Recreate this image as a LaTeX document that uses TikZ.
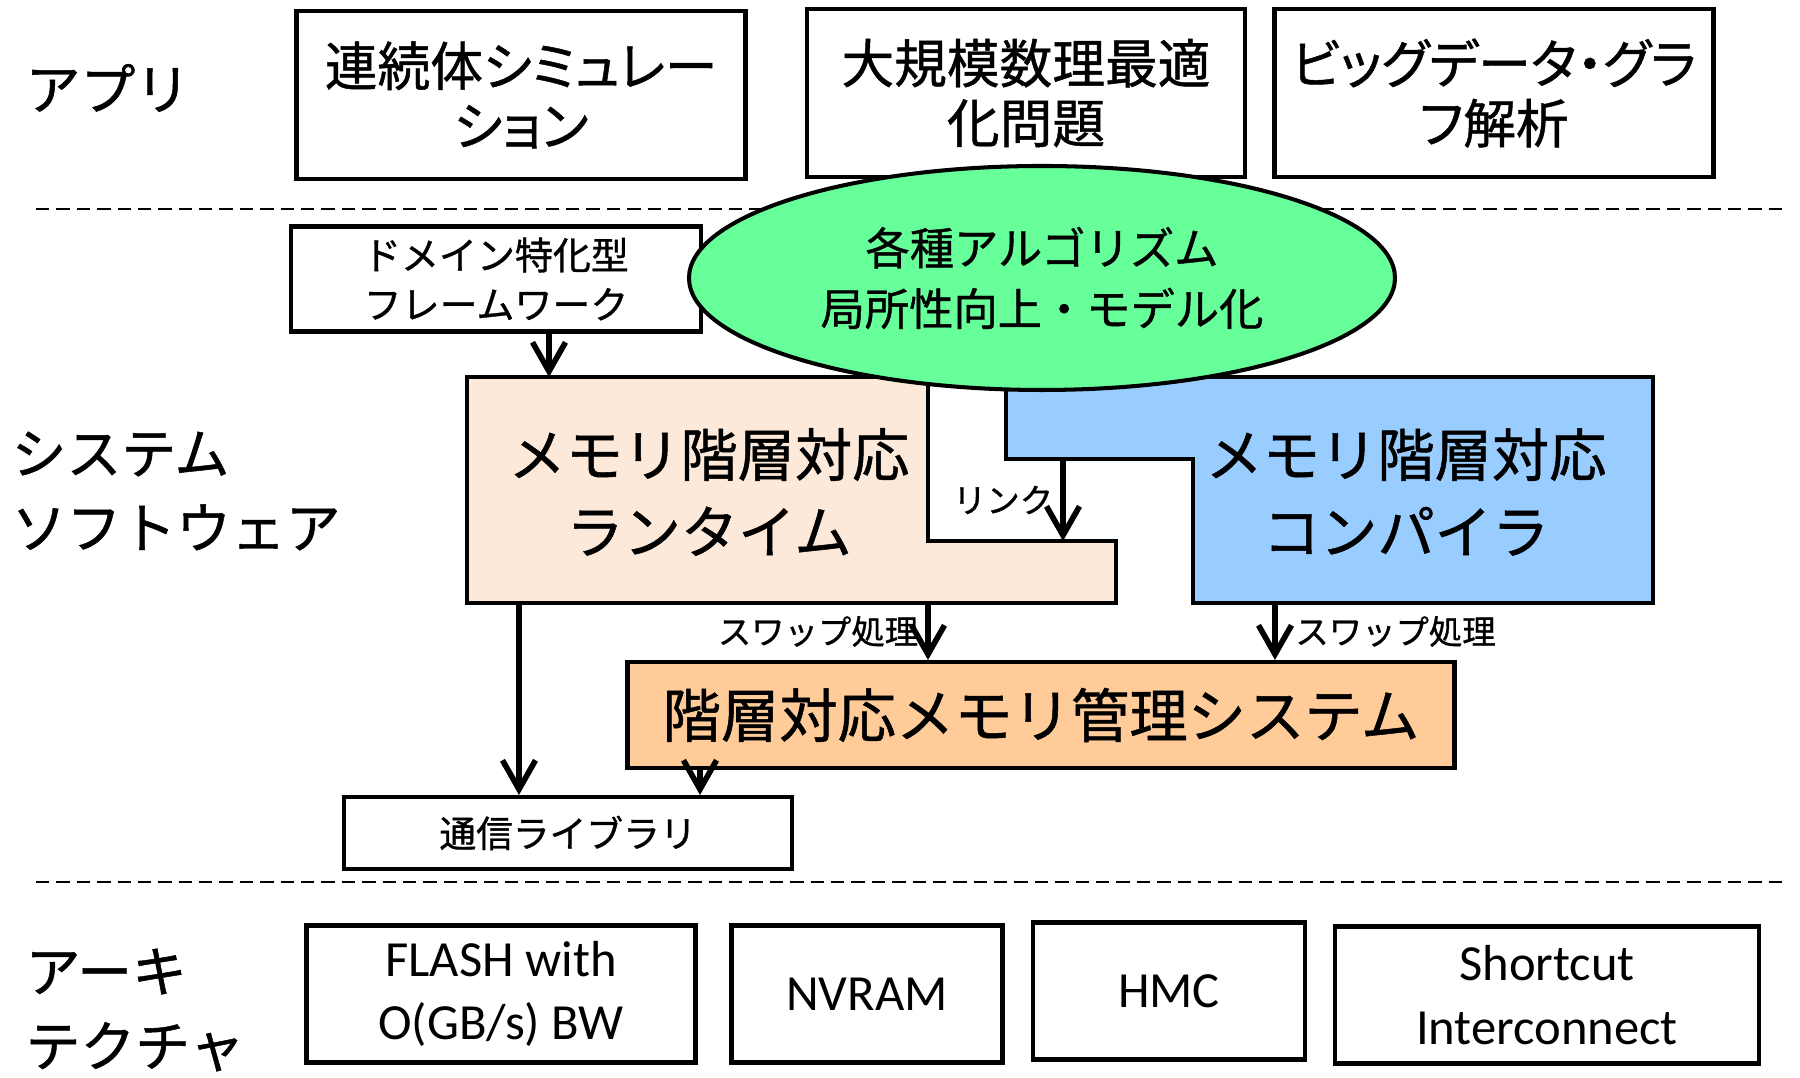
\documentclass[tikz,border=0pt]{standalone}
\usepackage{fontspec}
\setmainfont{Carlito}
\newfontfamily\jp[FakeBold=0.9]{Noto Sans CJK JP}
\newfontfamily\jpp[FakeBold=0.9,RawFeature=+palt]{Noto Sans CJK JP}
\usepackage{tikz}
\usetikzlibrary{arrows.meta,shapes.geometric}

\definecolor{algfill}{RGB}{102,255,153}
\definecolor{rtfill}{RGB}{253,233,217}
\definecolor{ccfill}{RGB}{153,204,255}
\definecolor{mmfill}{RGB}{255,204,153}

\begin{document}
\begin{tikzpicture}[
  n/.style={draw,line width=1.15pt,align=center,inner sep=0pt},
  top/.style={n,minimum height=1.68cm,font=\jpp\fontsize{15}{17}\selectfont},
  hw/.style={n,minimum height=1.37cm,font=\fontsize{14.4}{18}\selectfont},
  sec/.style={anchor=west,align=left,inner sep=0pt,font=\jp\fontsize{15.6}{21.2}\selectfont},
  lab/.style={inner sep=2pt,font=\jp\fontsize{9.5}{11}\selectfont},
  ar/.style={line width=1.6pt,-{Straight Barb[length=2.9mm,width=3.3mm]}},
  divider/.style={line width=0.55pt,dash pattern=on 3.8pt off 2pt}]
\useasboundingbox (0,0) rectangle (18.0,-10.78);

% layers
\draw[divider] (0.36,-2.09) -- (17.87,-2.09);
\draw[divider] (0.36,-8.82) -- (17.87,-8.82);
\node[sec] (app)  at (0.25,-0.88)  {アプリ};
\node[sec] (sys)  at (0.11,-4.91)  {システム\\ソフトウェア};
\node[sec] (arch) at (0.25,-10.10) {アーキ\\テクチャ};

% applications
\node[top,minimum width=4.49cm] (a1) at (5.21,-0.95)  {連続体シミュレー\\ション};
\node[top,minimum width=4.38cm] (a2) at (10.26,-0.93) {大規模数理最適\\化問題};
\node[top,minimum width=4.39cm] (a3) at (14.94,-0.93) {ビッグデータ・グラ\\フ解析};

% system software
\node[n,minimum width=4.10cm,minimum height=1.05cm,font=\jp\fontsize{10.8}{14}\selectfont] (dsl) at (4.96,-2.79) {ドメイン特化型\\フレームワーク};

\filldraw[fill=rtfill,line width=1.15pt] (4.67,-3.77) -- (9.28,-3.77) -- (9.28,-5.41)
  -- (11.16,-5.41) -- (11.16,-6.03) -- (4.67,-6.03) -- cycle;
\filldraw[fill=ccfill,line width=1.15pt] (10.06,-3.77) -- (16.53,-3.77) -- (16.53,-6.03)
  -- (11.93,-6.03) -- (11.93,-4.59) -- (10.06,-4.59) -- cycle;
\node[align=center,font=\jp\fontsize{16.3}{21.9}\selectfont] (rt) at (7.09,-4.92)  {メモリ階層対応\\ランタイム};
\node[align=center,font=\jp\fontsize{16.3}{21.9}\selectfont] (cc) at (14.06,-4.92) {メモリ階層対応\\コンパイラ};

\node[ellipse,draw,line width=1.15pt,fill=algfill,minimum width=7.06cm,minimum height=2.24cm,
  inner sep=0pt,align=center,font=\jp\fontsize{12.6}{17.3}\selectfont] (alg) at (10.42,-2.78)
  {各種アルゴリズム\\局所性向上・モデル化};

\node[n,fill=mmfill,minimum width=8.27cm,minimum height=1.06cm,font=\jp\fontsize{16.6}{20}\selectfont] (mm) at (10.41,-7.15) {階層対応メモリ管理システム};
\node[n,minimum width=4.48cm,minimum height=0.72cm,font=\jp\fontsize{10.45}{12}\selectfont] (comm) at (5.68,-8.33) {通信ライブラリ};

% ends of the arrows on the two odd-shaped blocks
\coordinate (rtt) at (5.49,-3.77);
\coordinate (ccn) at (10.63,-4.59);
\coordinate (rtn) at (10.63,-5.41);
\coordinate (rts) at (9.28,-6.03);
\coordinate (ccs) at (12.75,-6.03);
\coordinate (rtc) at (5.19,-6.03);

\draw[ar] (dsl.south -| rtt) -- (rtt);
\draw[ar] (ccn) -- node[lab,left] (lk) {リンク} (rtn);
\draw[ar] (rts) -- node[lab,left] (sw1) {スワップ処理} (rts |- mm.north);
\draw[ar] (ccs) -- node[lab,right,xshift=3pt] (sw2) {スワップ処理} (ccs |- mm.north);
\draw[ar] (rtc) -- (rtc |- comm.north);
\draw[ar] ([xshift=-3.41cm]mm.south) -- ([xshift=1.32cm]comm.north);

% architecture
\node[hw,minimum width=3.89cm] (h1) at (5.01,-9.94)  {FLASH with\\O(GB/s) BW};
\node[hw,minimum width=2.71cm] (h2) at (8.67,-9.94)  {NVRAM};
\node[hw,minimum width=2.72cm] (h3) at (11.69,-9.91) {HMC};
\node[hw,minimum width=4.24cm] (h4) at (15.47,-9.95) {Shortcut\\Interconnect};
\end{tikzpicture}
\end{document}
